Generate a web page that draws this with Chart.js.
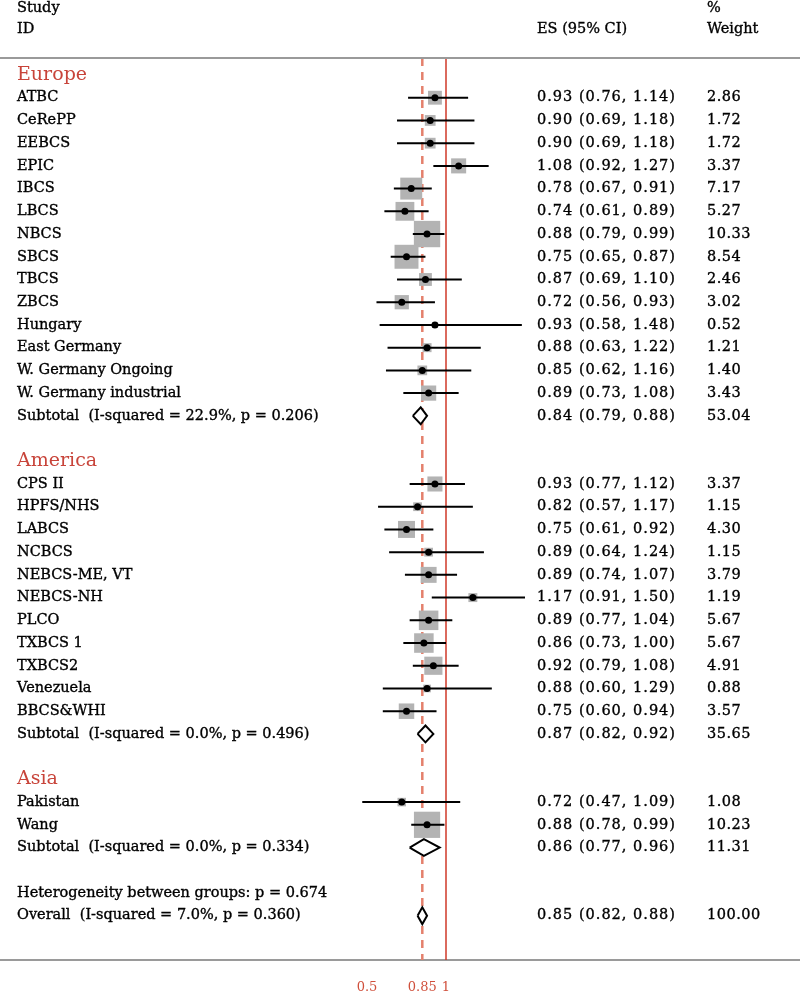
<!DOCTYPE html>
<html>
<head>
<meta charset="utf-8">
<title>Forest plot</title>
<script src="https://cdn.jsdelivr.net/npm/chart.js@4.4.1/dist/chart.umd.min.js"></script>
<style>
  body { margin: 0; background: #fff; }
  #wrap { width: 800px; height: 996px; }
</style>
</head>
<body>
<div id="wrap"><canvas id="forest-chart" width="800" height="996"></canvas></div>
<script>
(function () {
  'use strict';

  // one entry per row, top to bottom
  const rowLabels = [
    'Europe', 'ATBC', 'CeRePP', 'EEBCS', 'EPIC', 'IBCS', 'LBCS', 'NBCS', 'SBCS', 'TBCS', 'ZBCS',
    'Hungary', 'East Germany', 'W. Germany Ongoing', 'W. Germany industrial',
    'Subtotal  (I-squared = 22.9%, p = 0.206)', '',
    'America', 'CPS II', 'HPFS/NHS', 'LABCS', 'NCBCS', 'NEBCS-ME, VT', 'NEBCS-NH', 'PLCO',
    'TXBCS 1', 'TXBCS2', 'Venezuela', 'BBCS&WHI',
    'Subtotal  (I-squared = 0.0%, p = 0.496)', '',
    'Asia', 'Pakistan', 'Wang',
    'Subtotal  (I-squared = 0.0%, p = 0.334)', '',
    'Heterogeneity between groups: p = 0.674',
    'Overall  (I-squared = 7.0%, p = 0.360)'
  ];
  const rowKinds = [
    'group', 'study', 'study', 'study', 'study', 'study', 'study', 'study', 'study', 'study', 'study',
    'study', 'study', 'study', 'study',
    'summary', 'blank',
    'group', 'study', 'study', 'study', 'study', 'study', 'study', 'study',
    'study', 'study', 'study', 'study',
    'summary', 'blank',
    'group', 'study', 'study',
    'summary', 'blank',
    'note',
    'summary'
  ];
  const esValues = [
    null, 0.93, 0.90, 0.90, 1.08, 0.78, 0.74, 0.88, 0.75, 0.87, 0.72,
    0.93, 0.88, 0.85, 0.89,
    0.84, null,
    null, 0.93, 0.82, 0.75, 0.89, 0.89, 1.17, 0.89,
    0.86, 0.92, 0.88, 0.75,
    0.87, null,
    null, 0.72, 0.88,
    0.86, null,
    null,
    0.85
  ];
  const ciLower = [
    null, 0.76, 0.69, 0.69, 0.92, 0.67, 0.61, 0.79, 0.65, 0.69, 0.56,
    0.58, 0.63, 0.62, 0.73,
    0.79, null,
    null, 0.77, 0.57, 0.61, 0.64, 0.74, 0.91, 0.77,
    0.73, 0.79, 0.60, 0.60,
    0.82, null,
    null, 0.47, 0.78,
    0.77, null,
    null,
    0.82
  ];
  const ciUpper = [
    null, 1.14, 1.18, 1.18, 1.27, 0.91, 0.89, 0.99, 0.87, 1.10, 0.93,
    1.48, 1.22, 1.16, 1.08,
    0.88, null,
    null, 1.12, 1.17, 0.92, 1.24, 1.07, 1.50, 1.04,
    1.00, 1.08, 1.29, 0.94,
    0.92, null,
    null, 1.09, 0.99,
    0.96, null,
    null,
    0.88
  ];
  const weights = [
    null, 2.86, 1.72, 1.72, 3.37, 7.17, 5.27, 10.33, 8.54, 2.46, 3.02,
    0.52, 1.21, 1.40, 3.43,
    53.04, null,
    null, 3.37, 1.15, 4.30, 1.15, 3.79, 1.19, 5.67,
    5.67, 4.91, 0.88, 3.57,
    35.65, null,
    null, 1.08, 10.23,
    11.31, null,
    null,
    100.00
  ];
  const axisTicks = [0.5, 0.85, 1];
  const nullEffect = 1;

  const yTop = -0.748;
  const yBottom = 38.95;
  const overallRow = rowKinds.lastIndexOf('summary');

  const textFont = '14.5px "DejaVu Serif", serif';
  const groupFont = '19px "DejaVu Serif", serif';
  const textColor = '#000';
  const redText = '#c8443a';

  const squarePoints = [];
  const squareRadius = [];
  const dotPoints = [];
  const ciPoints = [];
  const diamondSets = [];

  rowKinds.forEach(function (kind, i) {
    if (kind === 'study') {
      squarePoints.push({ x: esValues[i], y: i });
      squareRadius.push(8.2 * Math.sqrt(weights[i]) / Math.SQRT2);
      dotPoints.push({ x: esValues[i], y: i });
      ciPoints.push({ x: ciLower[i], y: i }, { x: ciUpper[i], y: i }, { x: esValues[i], y: null });
    } else if (kind === 'summary') {
      const h = 0.37;
      diamondSets.push({
        type: 'line',
        data: [
          { x: ciLower[i], y: i },
          { x: esValues[i], y: i - h },
          { x: ciUpper[i], y: i },
          { x: esValues[i], y: i + h },
          { x: ciLower[i], y: i }
        ],
        borderColor: '#000',
        borderWidth: 2,
        backgroundColor: '#fff',
        fill: 'shape',
        pointRadius: 0,
        tension: 0,
        order: 1
      });
    }
  });

  // fill plus a hairline stroke, the source text is a little heavy
  function heavyText(ctx, str, x, y) {
    ctx.fillText(str, x, y);
    ctx.strokeText(str, x, y);
  }

  const columnText = {
    id: 'columnText',
    afterDraw: function (chart) {
      const ctx = chart.ctx;
      const y = chart.scales.y;
      const area = chart.chartArea;
      ctx.save();

      ctx.strokeStyle = '#9a9a9a';
      ctx.lineWidth = 2;
      ctx.beginPath();
      ctx.moveTo(0, area.top);
      ctx.lineTo(chart.width, area.top);
      ctx.stroke();

      ctx.lineWidth = 0.35;
      ctx.textBaseline = 'middle';
      ctx.textAlign = 'left';
      ctx.font = textFont;
      ctx.fillStyle = textColor;
      ctx.strokeStyle = textColor;
      heavyText(ctx, 'Study', 17, 8);
      heavyText(ctx, 'ID', 17, 29);
      heavyText(ctx, 'ES (95% CI)', 537, 29);
      heavyText(ctx, '%', 707, 8);
      heavyText(ctx, 'Weight', 707, 29);

      rowLabels.forEach(function (label, i) {
        const py = y.getPixelForValue(i);
        if (rowKinds[i] === 'group') {
          ctx.font = groupFont;
          ctx.fillStyle = redText;
          ctx.fillText(label, 17, py);
          return;
        }
        ctx.font = textFont;
        ctx.fillStyle = textColor;
        ctx.letterSpacing = '0px';
        if (label) heavyText(ctx, label, 17, py);
        if (esValues[i] !== null) {
          ctx.letterSpacing = '1px';
          heavyText(ctx, esValues[i].toFixed(2) + ' (' + ciLower[i].toFixed(2) + ', ' +
            ciUpper[i].toFixed(2) + ')', 537, py);
          ctx.letterSpacing = '0.5px';
          heavyText(ctx, weights[i].toFixed(2), 707, py);
        }
      });
      ctx.restore();
    }
  };

  const canvas = document.getElementById('forest-chart');
  new Chart(canvas, {
    type: 'scatter',
    data: {
      datasets: [
        {
          type: 'line',
          data: [{ x: nullEffect, y: yTop }, { x: nullEffect, y: yBottom }],
          borderColor: '#d03a2a',
          borderWidth: 1.5,
          pointRadius: 0,
          order: 6
        },
        {
          type: 'line',
          data: [{ x: esValues[overallRow], y: yTop }, { x: esValues[overallRow], y: yBottom }],
          borderColor: '#e4806c',
          borderWidth: 2.5,
          borderDash: [8, 6],
          pointRadius: 0,
          order: 5
        },
        {
          data: squarePoints,
          pointStyle: 'rect',
          pointRadius: squareRadius,
          backgroundColor: '#b3b3b3',
          borderWidth: 0,
          order: 4
        },
        {
          type: 'line',
          data: ciPoints,
          borderColor: '#000',
          borderWidth: 2,
          pointRadius: 0,
          spanGaps: false,
          order: 3
        },
        {
          data: dotPoints,
          pointStyle: 'circle',
          pointRadius: 3.5,
          backgroundColor: '#000',
          borderWidth: 0,
          order: 2
        }
      ].concat(diamondSets)
    },
    options: {
      responsive: false,
      animation: false,
      events: [],
      layout: { autoPadding: false, padding: { top: 58, left: 0, right: 0, bottom: 0 } },
      plugins: {
        legend: { display: false },
        tooltip: { enabled: false }
      },
      scales: {
        x: {
          type: 'linear',
          min: 1 - 446 / 158,
          max: 1 + 354 / 158,
          grid: { display: false, drawTicks: false },
          border: { color: '#9a9a9a', width: 2 },
          afterBuildTicks: function (scale) {
            scale.ticks = axisTicks.map(function (v) { return { value: v }; });
          },
          afterFit: function (scale) {
            scale.height = 36;
          },
          ticks: {
            autoSkip: false,
            maxRotation: 0,
            padding: 20,
            color: '#d0503c',
            font: { family: '"DejaVu Serif", serif', size: 13 },
            callback: function (value) { return String(value); }
          }
        },
        y: {
          type: 'linear',
          display: false,
          reverse: true,
          min: yTop,
          max: yBottom
        }
      }
    },
    plugins: [columnText]
  });
})();
</script>
</body>
</html>
